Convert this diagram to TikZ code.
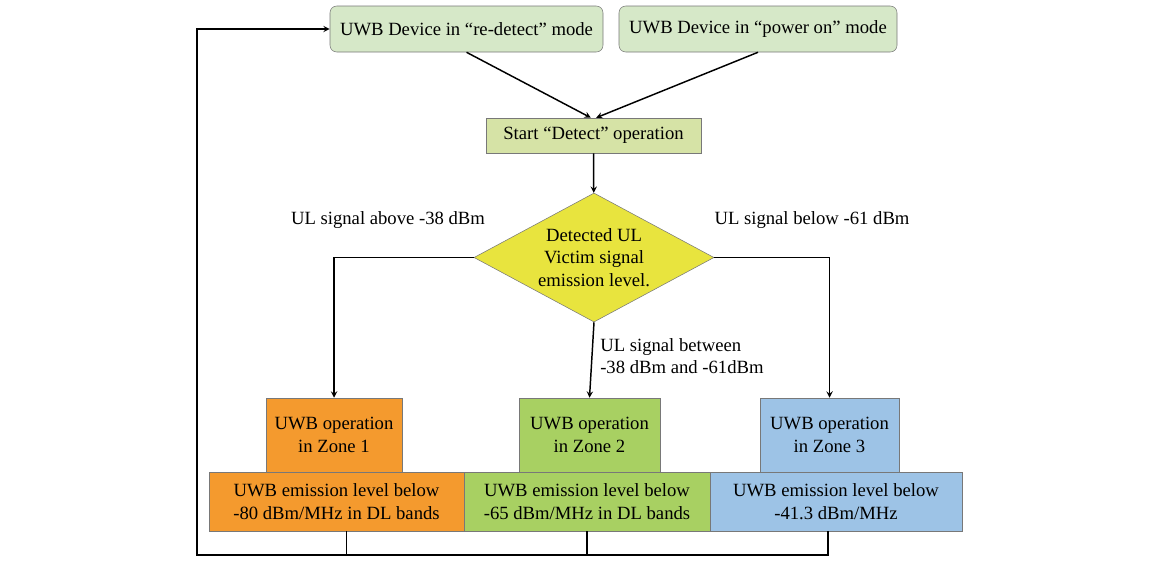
\documentclass[tikz,border=0pt]{standalone}
\usepackage{fontspec}
\setmainfont{Liberation Serif}
\usepackage{xcolor}
\usetikzlibrary{shapes.geometric, arrows}
\definecolor{modegreen}{RGB}{214,232,200}
\definecolor{startgreen}{RGB}{214,227,166}
\definecolor{decyellow}{RGB}{232,228,62}
\definecolor{zoneorange}{RGB}{244,154,46}
\definecolor{zonegreen}{RGB}{168,208,98}
\definecolor{zoneblue}{RGB}{157,195,230}
\definecolor{edgegray}{RGB}{120,120,120}
\tikzset{>=stealth,
every node/.style={font=\fontsize{14}{17}\selectfont, align=center, inner sep=0pt},
modebox/.style={draw=edgegray, fill=modegreen, rounded corners=5pt, minimum height=34.5pt},
plainbox/.style={draw=edgegray, minimum height=#1},
flow/.style={->, line width=1.1pt},
link/.style={line width=1.1pt},
}

\begin{document}
\begin{tikzpicture}[x=0.75pt, y=-0.75pt]
    \useasboundingbox (0,0) rectangle (1149,569);
    % start of the procedure
    \node[modebox, minimum width=204.75pt] (redet) at (466.5,29) {UWB Device in “re-detect” mode};
    \node[modebox, minimum width=208.5pt] (pwron) at (758,29) {UWB Device in “power on” mode};
    \node[plainbox=26.25pt, fill=startgreen, minimum width=161.25pt] (start) at (593.5,135.5) {Start “Detect” operation};
    \node[diamond, aspect=1.86, draw=edgegray, fill=decyellow, minimum width=180pt, minimum height=96.75pt] (level) at (594,257.5)
        {Detected UL\\Victim signal\\emission level.};
    % zones
    \node[plainbox=55.5pt, fill=zoneorange, minimum width=102pt] (zone1) at (334,435) {UWB operation\\in Zone 1};
    \node[plainbox=55.5pt, fill=zonegreen, minimum width=105.75pt] (zone2) at (589.5,435) {UWB operation\\in Zone 2};
    \node[plainbox=55.5pt, fill=zoneblue, minimum width=104.25pt] (zone3) at (829.5,435) {UWB operation\\in Zone 3};
    \node[plainbox=44.25pt, fill=zoneorange, minimum width=191.25pt] (emit1) at (336.5,501.5) {UWB emission level below\\-80 dBm/MHz in DL bands};
    \node[plainbox=44.25pt, fill=zonegreen, minimum width=184.5pt] (emit2) at (587,501.5) {UWB emission level below\\-65 dBm/MHz in DL bands};
    \node[plainbox=44.25pt, fill=zoneblue, minimum width=189pt] (emit3) at (836,501.5) {UWB emission level below\\-41.3 dBm/MHz};
    % branch labels
    \node (above) at (388,220) {UL signal above -38 dBm};
    \node (below) at (812,220) {UL signal below -61 dBm};
    \node[anchor=west, align=left] (between) at (600,356) {UL signal between\\-38 dBm and -61dBm};
    \coordinate (loop) at (197,555);

    \draw[flow] (redet.south) -- ([xshift=-2pt]start.north);
    \draw[flow] (pwron.south) -- ([xshift=2pt]start.north);
    \draw[flow] (start) -- (level);
    \draw[flow] (level.west) -| (zone1.north);
    \draw[flow] (level.east) -| (zone3.north);
    \draw[flow] (level.south) -- (zone2.north);
    \draw[link] ([xshift=7.5pt]emit1.south) -- ([xshift=7.5pt]emit1.south |- loop);
    \draw[link] (emit2.south) -- (emit2.south |- loop);
    \draw[flow] ([xshift=-6pt]emit3.south) |- (loop) |- (redet.west);
\end{tikzpicture}
\end{document}
